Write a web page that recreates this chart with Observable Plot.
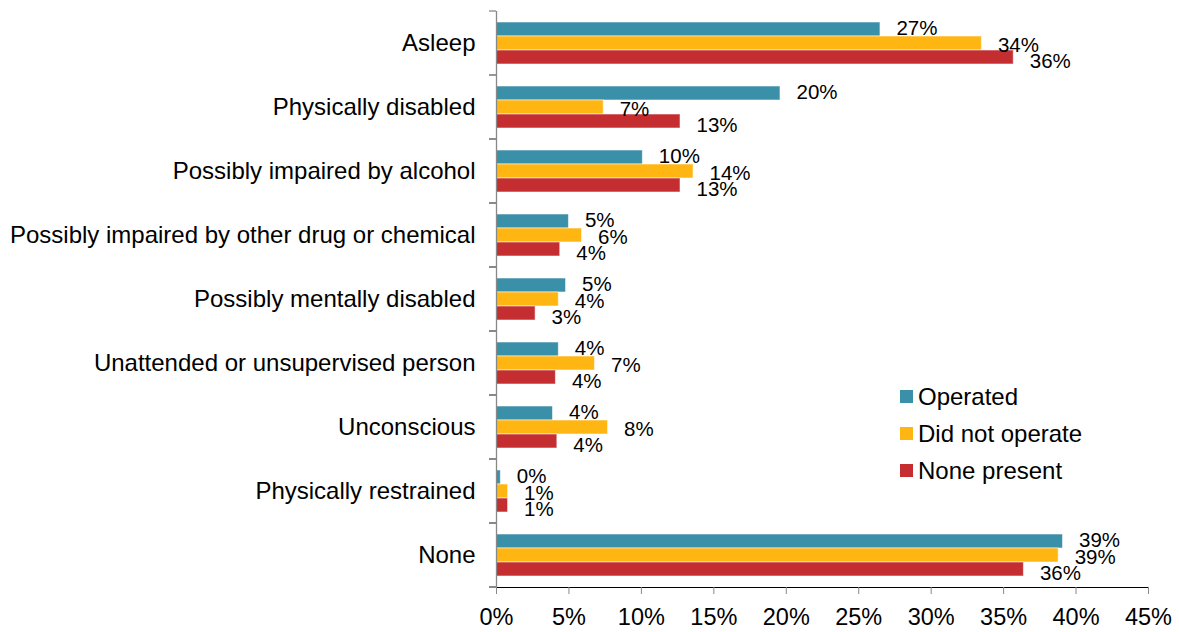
<!DOCTYPE html>
<html>
<head>
<meta charset="utf-8">
<script src="https://cdn.jsdelivr.net/npm/d3@7"></script>
<script src="https://cdn.jsdelivr.net/npm/@observablehq/plot@0.6"></script>
<style>
  html, body { margin: 0; padding: 0; background: #fff; }
  #wrap { position: relative; width: 1179px; height: 632px; font-family: "Liberation Sans", Arial, sans-serif; }
  #legend { position: absolute; left: 900px; top: 378px; font-size: 24px; color: #000; }
  #legend .row { display: flex; align-items: center; height: 37px; }
  #legend .sw { width: 13px; height: 13px; margin-right: 5px; }
  svg g[aria-label="x-axis tick"] path, svg g[aria-label="x-axis line"] path { stroke: #888; stroke-opacity: 1; }
  svg g[aria-label="x-axis tick label"] { font-size: 23.5px; }
</style>
</head>
<body>
<div id="wrap"></div>
<script>
const categories = [
  "Asleep",
  "Physically disabled",
  "Possibly impaired by alcohol",
  "Possibly impaired by other drug or chemical",
  "Possibly mentally disabled",
  "Unattended or unsupervised person",
  "Unconscious",
  "Physically restrained",
  "None"
];
const seriesNames = ["Operated", "Did not operate", "None present"];
const seriesColors = ["#3A90A8", "#FFB612", "#C42E31"];
const operated      = [26.5, 19.6, 10.1, 5.0, 4.8, 4.3, 3.9, 0.3, 39.1];
const didNotOperate = [33.5,  7.4, 13.6, 5.9, 4.3, 6.8, 7.7, 0.8, 38.8];
const nonePresent   = [35.7, 12.7, 12.7, 4.4, 2.7, 4.1, 4.2, 0.8, 36.4];
const xTicks = [0, 5, 10, 15, 20, 25, 30, 35, 40, 45];

const seriesValues = [operated, didNotOperate, nonePresent];
const data = [];
categories.forEach((c, i) => {
  seriesNames.forEach((s, j) => {
    data.push({category: c, series: s, value: seriesValues[j][i]});
  });
});

const axisColor = "#888";

// short ticks on the left of the category axis, at the boundaries between categories
function boundaryTicks(index, scales, values, dimensions) {
  const {marginTop, marginBottom, marginLeft, height} = dimensions;
  const fy = scales.fy;
  let edges;
  if (fy && fy.bandwidth) {
    edges = categories.map(c => fy(c));
    edges.push(fy(categories[categories.length - 1]) + fy.bandwidth());
  } else {
    const step = (height - marginTop - marginBottom) / categories.length;
    edges = d3.range(categories.length + 1).map(i => marginTop + i * step);
  }
  const g = d3.create("svg:g").attr("stroke", axisColor).attr("stroke-width", 1.3);
  for (const e of edges) {
    g.append("line").attr("x1", marginLeft - 7).attr("x2", marginLeft).attr("y1", e).attr("y2", e);
  }
  return g.node();
}

// data labels, slightly spread apart vertically per series (as in the reference)
const labelMarks = seriesNames.map((s, j) => Plot.text(data.filter(d => d.series === s), {
  fy: "category", y: "series", x: "value",
  text: d => Math.round(d.value) + "%",
  textAnchor: "start", dx: 16, dy: [-1, 2, 4][j], fontSize: 20.5, fill: "#000"
}));

const chart = Plot.plot({
  width: 1179,
  height: 632,
  marginLeft: 496,
  marginRight: 31,
  marginTop: 11,
  marginBottom: 45,
  style: {fontFamily: "Liberation Sans, Arial, sans-serif", fontSize: "24px", color: "#000", background: "#fff"},
  x: {domain: [0, 45], ticks: xTicks, tickFormat: d => d + "%", tickSize: 7, tickPadding: 14, label: null, line: true},
  y: {domain: seriesNames, axis: null, paddingInner: 0, paddingOuter: 0.75},
  fy: {domain: categories, padding: 0, axis: "left", tickSize: 0, tickPadding: 21, label: null},
  color: {domain: seriesNames, range: seriesColors},
  marks: [
    Plot.barX(data, {
      fy: "category", y: "series", x: "value", fill: "series",
      stroke: "white", strokeOpacity: 0.55, strokeWidth: 1
    }),
    ...labelMarks,
    Plot.ruleX([0], {stroke: axisColor, strokeWidth: 1.3}),
    boundaryTicks
  ]
});

const wrap = document.getElementById("wrap");
wrap.appendChild(chart);

const legend = document.createElement("div");
legend.id = "legend";
seriesNames.forEach((s, i) => {
  const row = document.createElement("div");
  row.className = "row";
  const sw = document.createElement("div");
  sw.className = "sw";
  sw.style.background = seriesColors[i];
  const t = document.createElement("span");
  t.textContent = s;
  row.appendChild(sw);
  row.appendChild(t);
  legend.appendChild(row);
});
wrap.appendChild(legend);
</script>
</body>
</html>
